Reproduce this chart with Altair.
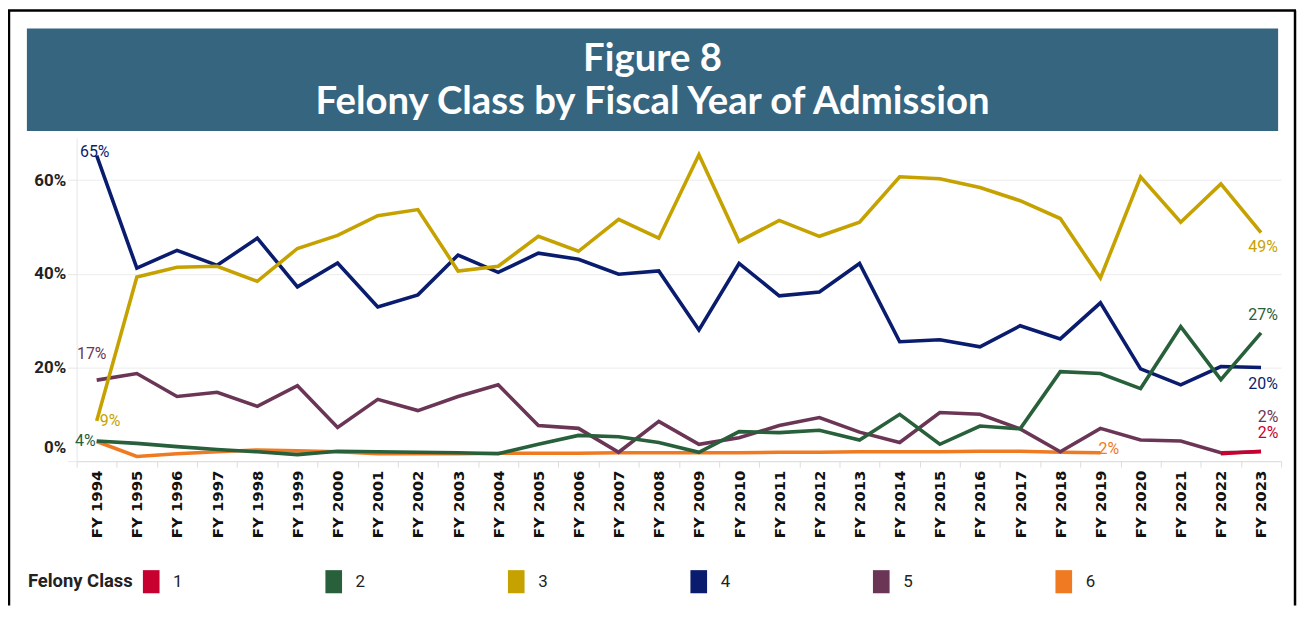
import altair as alt
import pandas as pd

# ---------------- data (percent of admissions) ----------------
years = ["FY 1994", "FY 1995", "FY 1996", "FY 1997", "FY 1998", "FY 1999",
         "FY 2000", "FY 2001", "FY 2002", "FY 2003", "FY 2004", "FY 2005",
         "FY 2006", "FY 2007", "FY 2008", "FY 2009", "FY 2010", "FY 2011",
         "FY 2012", "FY 2013", "FY 2014", "FY 2015", "FY 2016", "FY 2017",
         "FY 2018", "FY 2019", "FY 2020", "FY 2021", "FY 2022", "FY 2023"]

class_1 = [None] * 28 + [1.6, 2.1]
class_2 = [4.3, 3.8, 3.1, 2.5, 2.0, 1.4, 2.1, 2.0, 1.9, 1.8, 1.6, 3.6, 5.5, 5.2, 4.0,
           1.9, 6.3, 6.1, 6.6, 4.5, 10.0, 3.6, 7.5, 6.9, 19.1, 18.7, 15.5, 28.7, 17.4, 27.4]
class_3 = [8.6, 39.3, 41.4, 41.6, 38.4, 45.4, 48.2, 52.4, 53.7, 40.6, 41.6, 48.0, 44.8, 51.6, 47.6,
           65.4, 46.9, 51.4, 48.0, 51.0, 60.7, 60.3, 58.4, 55.6, 51.8, 39.1, 60.7, 51.0, 59.2, 48.8]
class_4 = [65.2, 41.2, 45.0, 41.8, 47.6, 37.2, 42.3, 32.9, 35.5, 44.0, 40.3, 44.4, 43.1, 39.9, 40.6,
           28.0, 42.2, 35.3, 36.1, 42.2, 25.5, 25.9, 24.4, 28.9, 26.1, 33.8, 19.7, 16.3, 20.2, 20.0]
class_5 = [17.3, 18.7, 13.8, 14.7, 11.7, 16.1, 7.2, 13.2, 10.8, 13.8, 16.3, 7.6, 7.0, 1.9, 8.5,
           3.6, 5.0, 7.6, 9.3, 6.2, 4.0, 10.4, 10.0, 6.9, 2.0, 7.0, 4.5, 4.3, 1.8, 2.0]
class_6 = [4.2, 1.0, 1.6, 2.0, 2.4, 2.2, 2.0, 1.6, 1.6, 1.6, 1.7, 1.7, 1.7, 1.8, 1.8,
           1.8, 1.8, 1.9, 1.9, 2.0, 2.0, 2.0, 2.1, 2.1, 1.9, 1.8, None, None, None, None]

classes = ["1", "2", "3", "4", "5", "6"]
series = [class_1, class_2, class_3, class_4, class_5, class_6]
colors = ["#c8002f", "#27603a", "#c6a200", "#0a1c6e", "#6b3656", "#f07a22"]

title_lines = ["Figure 8", "Felony Class by Fiscal Year of Admission"]
legend_title = "Felony Class"

# labelled points: (class, year)
labelled = [("4", "FY 1994"), ("3", "FY 1994"), ("5", "FY 1994"), ("2", "FY 1994"),
            ("3", "FY 2023"), ("2", "FY 2023"), ("4", "FY 2023"), ("5", "FY 2023"),
            ("1", "FY 2023"), ("6", "FY 2019")]
# label placement styles (dx, dy, align) in the same order
label_style = [(-2, -4, "center"), (3, 0, "left"), (-5, -26, "center"), (-1, 0, "right"),
               (2, 15, "center"), (2, -18, "center"), (2, 17, "center"), (7, -35, "center"),
               (7, -18, "center"), (-2, -4, "left")]

# ---------------- build table (class 6 first so class 1 draws on top) ----------------
rows = []
for cls, vals in reversed(list(zip(classes, series))):
    for yr, v in zip(years, vals):
        if v is not None:
            rows.append({"year": yr, "cls": cls, "pct": v})
df = pd.DataFrame(rows)

NARROW = "Liberation Sans Narrow, Arial Narrow, Roboto, sans-serif"
W, H = 1211, 325
PAD_BOTTOM = 146

color_scale = alt.Scale(domain=classes, range=colors)
x_scale = alt.Scale(type="band", domain=years, paddingInner=0, paddingOuter=0)
y_scale = alt.Scale(domain=[0, 69], nice=False, zero=True)

x_axis = alt.Axis(title=None, labelAngle=270, labelFont="DejaVu Sans", labelFontWeight="bold",
                  labelFontSize=15, labelColor="#111", tickBand="extent", tickColor="#dddddd",
                  tickSize=6, domainColor="#dddddd", labelPadding=3, grid=False)
y_axis = alt.Axis(title=None, values=[0, 20, 40, 60], labelExpr="datum.value + '%'",
                  grid=True, gridColor="#ececec", domainColor="#e6e6e6", tickColor="#e6e6e6",
                  tickSize=9, labelFlush=False,
                  labelOffset={"condition": {"test": "datum.value === 0", "value": -14}, "value": 0},
                  labelFont=NARROW, labelFontSize=17, labelFontWeight="bold", labelColor="#222",
                  labelPadding=2)

X = alt.X("year:O", sort=years, scale=x_scale, bandPosition=0.5, axis=x_axis)
Y = alt.Y("pct:Q", scale=y_scale, axis=y_axis)

RECT = "M-0.72,-1H0.72V1H-0.72Z"

legend_layer = alt.Chart(df).mark_point(filled=True, opacity=0, shape=RECT, size=400).encode(
    x=X, y=Y,
    color=alt.Color("cls:N", scale=color_scale, legend=alt.Legend(
        orient="none", legendX=-49, legendY=434, direction="horizontal", columns=6,
        title=legend_title, titleOrient="left", titleFont=NARROW, titleFontSize=18.5,
        titleFontWeight="bold", titleColor="#222", titlePadding=6, titleBaseline="middle",
        labelFont=NARROW, labelFontSize=17, labelColor="#222", labelOffset=10,
        symbolType=RECT, symbolSize=540, symbolStrokeWidth=0, symbolOpacity=1,
        columnPadding=139.5))
)

lines = alt.Chart(df).mark_line(strokeWidth=3.6).encode(
    x=X, y=Y, color=alt.Color("cls:N", scale=color_scale, legend=None)
)

label_layers = []
for (cls, yr), (dx, dy, align) in zip(labelled, label_style):
    v = series[classes.index(cls)][years.index(yr)]
    ldf = pd.DataFrame([{"year": yr, "pct": v, "txt": f"{round(v)}%"}])
    label_layers.append(
        alt.Chart(ldf).mark_text(dx=dx, dy=dy, align=align, baseline="middle", font=NARROW,
                                 fontSize=16, color=colors[classes.index(cls)]).encode(
            x=X, y=Y, text="txt:N")
    )

one = pd.DataFrame({"a": [0]})
frame_left = alt.Chart(one).mark_rule(color="black", strokeWidth=2.5).encode(
    x=alt.value(-68), y=alt.value(-128), y2=alt.value(H + PAD_BOTTOM - 1))
frame_right = alt.Chart(one).mark_rule(color="black", strokeWidth=2.5).encode(
    x=alt.value(1225), y=alt.value(-128), y2=alt.value(H + PAD_BOTTOM - 1))
frame_top = alt.Chart(one).mark_rule(color="black", strokeWidth=2.5).encode(
    x=alt.value(-69), x2=alt.value(1226), y=alt.value(-128))
band = alt.Chart(one).mark_rect(color="#35657f").encode(
    x=alt.value(-50), x2=alt.value(1208), y=alt.value(-110), y2=alt.value(-7))
t1 = alt.Chart(one).mark_text(font="Lato", fontWeight="bold", fontSize=38.5, color="white",
                              align="center", baseline="middle").encode(
    x=alt.value(579), y=alt.value(-79), text=alt.value(title_lines[0]))
t2 = alt.Chart(one).mark_text(font="Lato", fontWeight="bold", fontSize=38.5, color="white",
                              align="center", baseline="middle").encode(
    x=alt.value(579), y=alt.value(-36), text=alt.value(title_lines[1]))

chart = alt.layer(frame_left, frame_right, frame_top, band, t1, t2, legend_layer, lines,
                  *label_layers).properties(
    width=W, height=H,
    autosize=alt.AutoSizeParams(type="none"),
    padding={"left": 69, "top": 129, "right": 18, "bottom": PAD_BOTTOM},
    background="white",
).configure_view(stroke=None)

chart.save("out.html", embed_options={"renderer": "svg", "actions": False})
